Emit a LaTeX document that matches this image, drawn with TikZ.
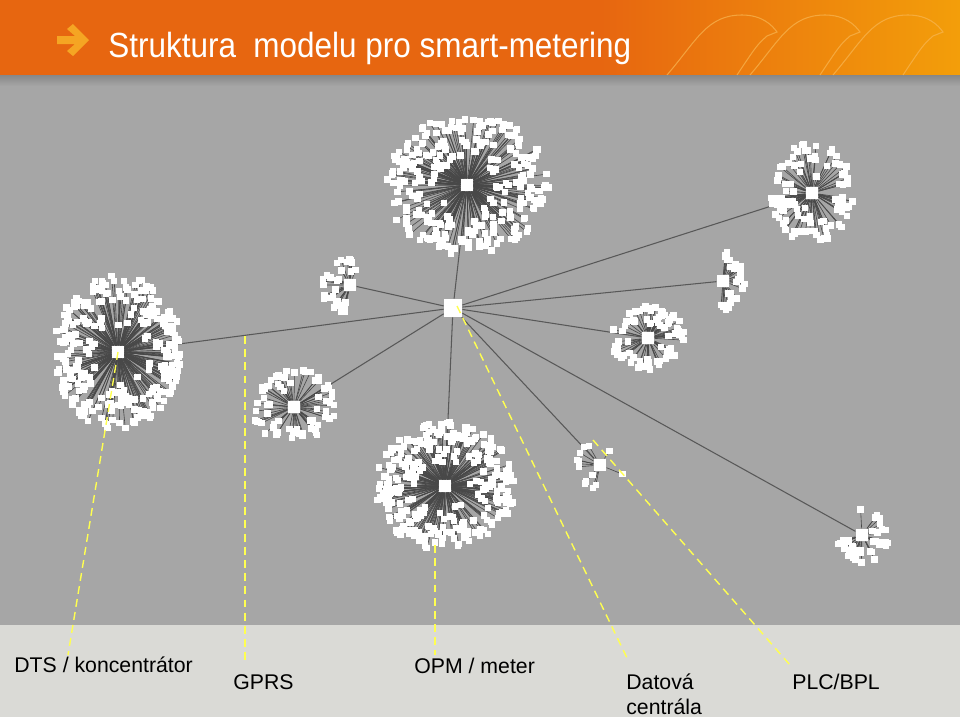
\documentclass[tikz,border=0pt]{standalone}
\usepackage{fontspec}
\setmainfont{Liberation Sans}
\newfontfamily\titlefont[FakeStretch=0.9]{Liberation Sans}
\usetikzlibrary{positioning}

\definecolor{hdrA}{RGB}{231,102,16}
\definecolor{hdrB}{RGB}{243,158,10}
\definecolor{hdrLine}{RGB}{248,182,82}
\definecolor{arrowIcon}{RGB}{245,165,35}
\definecolor{stripTop}{RGB}{135,135,135}
\definecolor{canvas}{RGB}{166,166,166}
\definecolor{footer}{RGB}{218,218,214}
\definecolor{rayGray}{RGB}{72,72,72}
\definecolor{linkGray}{RGB}{88,88,88}
\definecolor{callYellow}{RGB}{255,255,80}

% one concentrator with its meters: name, rx, ry, count, start angle, span, seed
\newcommand{\meshcluster}[7]{%
  \pgfmathsetseed{#7}
  \foreach \i in {1,...,#4}{
    \pgfmathsetmacro{\ang}{#5+#6*rnd}
    \pgfmathsetmacro{\rad}{0.3+0.7*rnd^0.45}
    \path (#1.center) ++({#2*\rad*cos(\ang)},{#3*\rad*sin(\ang)}) coordinate (#1-\i);
    \draw [raystyle] (#1) -- (#1-\i);
  }
  \foreach \i in {1,...,#4}
    \node (#1-m\i) [leafbox] at (#1-\i) {};
}

\begin{document}
\begin{tikzpicture}[x=0.02cm, y=-0.02cm]

  % styles
  \tikzstyle{hubbox} = [rectangle, fill=white, minimum size=0.36cm, inner sep=0]
  \tikzstyle{centrebox} = [rectangle, fill=white, minimum size=0.25cm, inner sep=0]
  \tikzstyle{leafbox} = [rectangle, fill=white, minimum size=0.13cm, inner sep=0]
  \tikzstyle{raystyle} = [rayGray, line width=0.35pt]
  \tikzstyle{linkstyle} = [linkGray, line width=0.6pt]
  \tikzstyle{callout} = [callYellow, line width=0.8pt, dash pattern=on 4.5pt off 3pt]
  \tikzstyle{labeltext} = [anchor=base west, inner sep=0, align=left, font=\fontsize{12.1}{13.7}\selectfont]

  \useasboundingbox (0,0) rectangle (960,717);

  % slide background
  \fill [hdrA] (0,0) rectangle (960,75);
  \shade [left color=hdrA, right color=hdrB] (600,0) rectangle (960,75);
  \shade [top color=stripTop, bottom color=canvas] (0,75) rectangle (960,86);
  \fill [canvas] (0,86) rectangle (960,625);
  \fill [footer] (0,625) rectangle (960,717);

  % header decoration
  \foreach \x in {667,750,833}
    \draw [hdrLine, line width=0.6pt, opacity=0.7] (\x,75) .. controls (\x+30,40) and (\x+40,15) .. (\x+75,15)
      .. controls (\x+95,15) and (\x+105,25) .. (\x+110,32) -- (\x+100,36) .. controls (\x+90,45) .. (\x+70,75);

  % title
  \fill [arrowIcon] (57,36) -- (75,36) -- (67,29) -- (73,24) -- (89,40) -- (73,56) -- (67,51) -- (75,44) -- (57,44) -- cycle;
  \node (title) [anchor=base west, inner sep=0, text=white, font=\titlefont\fontsize{19.9}{22}\selectfont] at (108,57) {Struktura\hspace{0.25em} modelu pro smart-metering};

  % data centre and concentrators
  \node (hub) [hubbox] at (453,308) {};
  \node (dtsTop) [centrebox] at (467,185) {};
  \node (dtsLeft) [centrebox] at (118,352) {};
  \node (dtsBottom) [centrebox] at (445,486) {};
  \node (dtsRight) [centrebox] at (812,193) {};
  \node (dtsA) [centrebox] at (350,285) {};
  \node (dtsB) [centrebox] at (294,407) {};
  \node (dtsC) [centrebox] at (723,281) {};
  \node (dtsD) [centrebox] at (648,338) {};
  \node (dtsE) [centrebox] at (600,465) {};
  \node (dtsF) [centrebox] at (862,535) {};

  % GPRS links
  \foreach \c in {dtsTop,dtsLeft,dtsBottom,dtsRight,dtsA,dtsB,dtsC,dtsD,dtsE,dtsF}
    \draw [linkstyle] (hub) -- (\c);

  % meters
  \meshcluster{dtsTop}{82}{70}{280}{0}{360}{11}
  \meshcluster{dtsLeft}{64}{78}{280}{0}{360}{23}
  \meshcluster{dtsBottom}{70}{64}{280}{0}{360}{37}
  \meshcluster{dtsRight}{42}{50}{100}{0}{360}{41}
  \meshcluster{dtsA}{30}{28}{32}{100}{190}{53}
  \meshcluster{dtsB}{42}{38}{70}{0}{360}{67}
  \meshcluster{dtsC}{22}{30}{30}{-100}{200}{71}
  \meshcluster{dtsD}{38}{32}{80}{0}{360}{83}
  \meshcluster{dtsE}{25}{25}{14}{0}{360}{97}
  \meshcluster{dtsF}{27}{28}{40}{-100}{270}{101}

  % callouts
  \coordinate (gprsTip) at (245,336);
  \coordinate (opmTip) at (435,545);
  \coordinate (dcTip) at (457,306);
  \coordinate (plcTip) at (593,440);
  \coordinate (dtsEnd) at (68,655);
  \coordinate (gprsEnd) at (245,660);
  \coordinate (opmEnd) at (435,655);
  \coordinate (dcEnd) at (628,660);
  \coordinate (plcEnd) at (790,665);

  \draw [callout] (dtsLeft.center) -- (dtsEnd);
  \draw [callout] (gprsTip) -- (gprsEnd);
  \draw [callout] (opmTip) -- (opmEnd);
  \draw [callout] (dcTip) -- (dcEnd);
  \draw [callout] (plcTip) -- (plcEnd);

  % labels
  \node (dtsLbl) [labeltext] at (14,672) {DTS / koncentrátor};
  \node (gprsLbl) [labeltext] at (233,689) {GPRS};
  \node (opmLbl) [labeltext] at (414,673) {OPM / meter};
  \node (dcLbl) [labeltext] at (626,714) {Datová\\centrála};
  \node (plcLbl) [labeltext] at (792,689) {PLC/BPL};

\end{tikzpicture}
\end{document}
